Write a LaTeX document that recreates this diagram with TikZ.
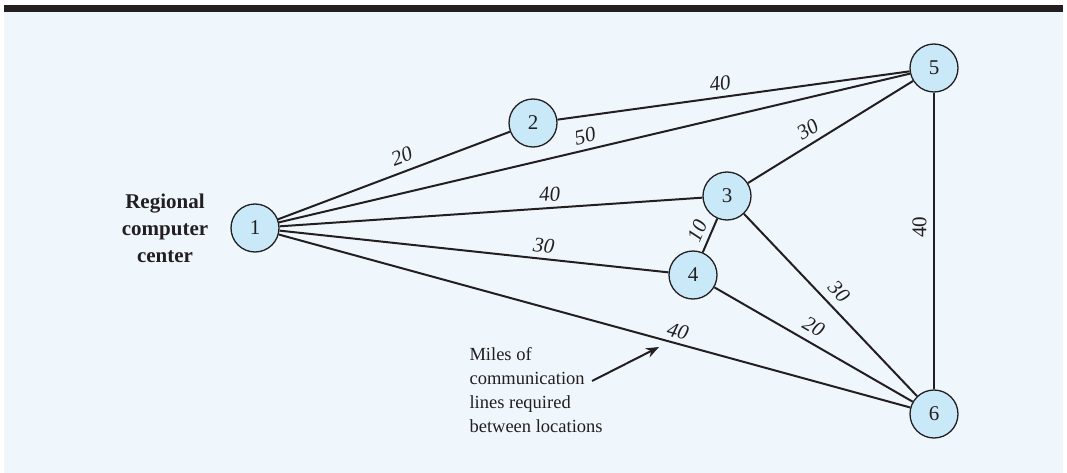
\documentclass[tikz,border=0pt]{standalone}
\usepackage{fontspec}
\setmainfont{Liberation Serif}
\usetikzlibrary{arrows.meta}
\definecolor{bgblue}{HTML}{EFF7FD}
\definecolor{nodeblue}{HTML}{C9E9F9}
\definecolor{ink}{HTML}{231F20}
\tikzset{
  netnode/.style={circle, draw=ink, line width=1.3pt, fill=nodeblue, minimum size=48pt, inner sep=0pt, font=\fontsize{21}{24}\selectfont, text=ink},
  link/.style={draw=ink, line width=2pt},
  lbl/.style={sloped, inner sep=0pt, font=\fontsize{21}{24}\selectfont\itshape, text=ink},
}
\begin{document}
\begin{tikzpicture}[x=1pt,y=1pt]
\useasboundingbox (0,0) rectangle (1067,-473);
\fill[white] (0,0) rectangle (1067,-473);
\fill[bgblue] (4,-12) rectangle (1063,-473);
\fill[ink] (4,-5) rectangle (1063,-12.5);

\node[netnode] (n1) at (255,-228) {1};
\node[netnode] (n2) at (533,-123) {2};
\node[netnode] (n3) at (727,-196) {3};
\node[netnode] (n4) at (693,-275) {4};
\node[netnode] (n5) at (934,-68) {5};
\node[netnode] (n6) at (934,-414) {6};

\draw[link] (n1) -- node[lbl, pos=0.556, above=7pt] {20} (n2);
\draw[link] (n2) -- node[lbl, pos=0.467, above=5.5pt] {40} (n5);
\draw[link] (n1) -- node[lbl, pos=0.49, above=5.5pt] {50} (n5);
\draw[link] (n1) -- node[lbl, pos=0.641, above=5.5pt] {40} (n3);
\draw[link] (n1) -- node[lbl, pos=0.676, above=5.5pt] {30} (n4);
\draw[link] (n3) -- node[lbl, pos=0.407, above=6pt] {30} (n5);
\draw[link] (n4) -- node[lbl, pos=0.484, above=5.5pt] {10} (n3);
\draw[link] (n1) -- node[lbl, pos=0.627, above=4pt] {40} (n6);
\draw[link] (n4) -- node[lbl, pos=0.462, above=7.5pt] {20} (n6);
\draw[link] (n3) -- node[lbl, pos=0.484, above=7.5pt] {30} (n6);
\draw[link] (n6) -- node[lbl, pos=0.547, above=6.5pt, font=\fontsize{21}{24}\selectfont] {40} (n5);

\node[align=center, font=\fontsize{21}{27}\selectfont\bfseries, text=ink] (rcc) at (165,-228) {Regional\\computer\\center};

\node[align=left, anchor=west, font=\fontsize{18.5}{24}\selectfont, text=ink] (note) at (466,-390.5) {Miles of\\communication\\lines required\\between locations};

\coordinate (at) at (592,-381);
\coordinate (ah) at (659,-347);
\draw[draw=ink, line width=2pt, -{Stealth[length=13pt,width=10pt]}] (at) -- (ah);
\end{tikzpicture}
\end{document}
